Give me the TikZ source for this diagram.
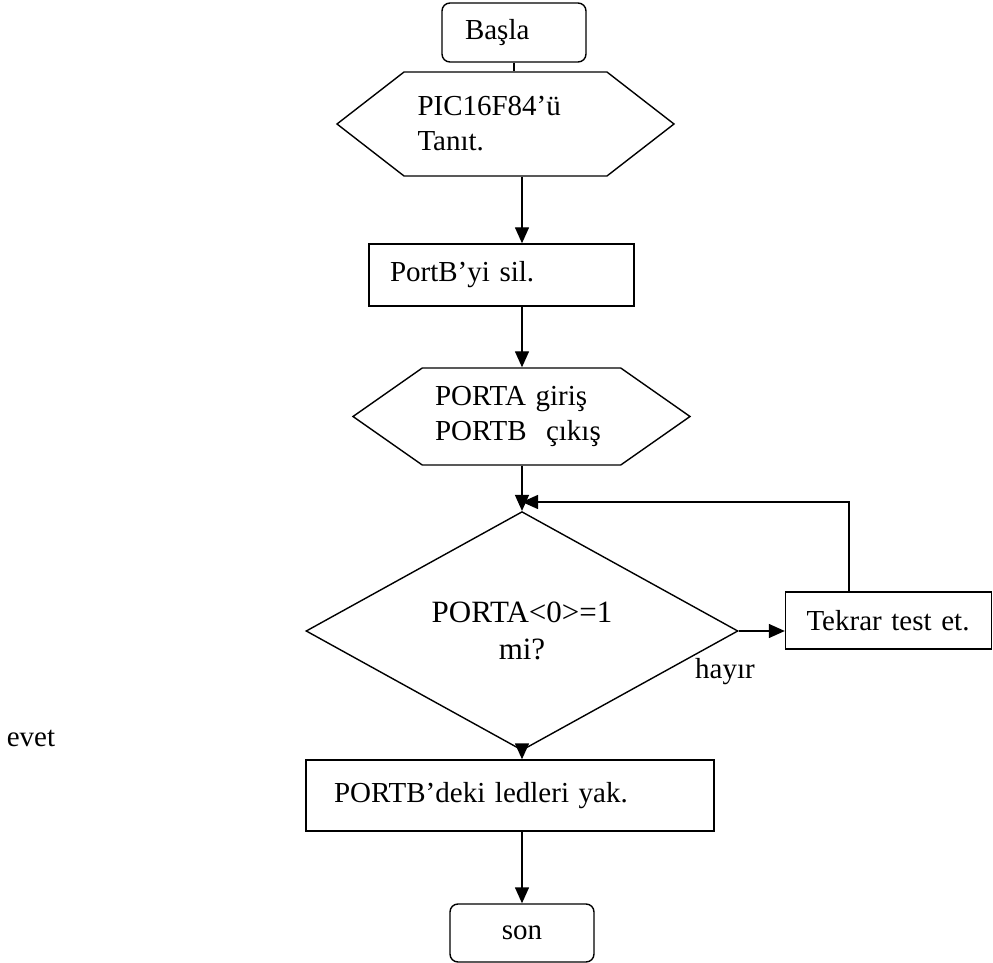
\documentclass[tikz,border=0pt]{standalone}
\usepackage{fontspec}
\setmainfont{Liberation Serif}
\usetikzlibrary{positioning,arrows.meta,shapes.geometric,shapes.symbols}
\tikzset{
  node-box/.style={draw,line width=0.7pt,inner sep=0pt,align=left,
    font=\fontsize{14.5}{17.5}\selectfont},
  node-term/.style={node-box,rounded corners=4pt},
  node-hex/.style={draw,line width=0.7pt,signal,signal to=west and east,
    inner sep=0pt,align=left,font=\fontsize{14.5}{17.5}\selectfont},
  node-karar/.style={draw,line width=0.7pt,diamond,inner sep=0pt,align=center,
    font=\fontsize{15.5}{18.5}\selectfont},
  node-label/.style={inner sep=0pt,font=\fontsize{14.5}{17.5}\selectfont},
  arrow/.style={-{Triangle[length=8pt,width=7pt]},line width=0.7pt},
}
\begin{document}
\begin{tikzpicture}[x=0.5pt,y=-0.5pt]
  \useasboundingbox (0,0) rectangle (993,963);
  \coordinate (eksen) at (522,0);
  \coordinate (donus) at (849,502);
  \node[node-term,minimum width=72pt,minimum height=29.5pt,text width=49pt] (basla) at (514,32.5) {Başla};
  \node[node-hex,signal pointer angle=75.6,minimum width=168.5pt,minimum height=52pt,text width=88pt]
    (tanit) at (505.5,124) {PIC16F84’ü\\Tanıt.};
  \node[node-box,minimum width=132.5pt,minimum height=31pt,text width=111.5pt] (portb) at (501.5,275) {PortB’yi sil.};
  \node[node-hex,signal pointer angle=70,minimum width=168.5pt,minimum height=48.5pt,text width=86.5pt]
    (giris) at (521.5,416.5) {PORTA giriş\\PORTB~ çıkış};
  \node[node-karar,minimum width=216pt,minimum height=95.5pt] (karar) at (522,631) {PORTA<0>=1\\mi?};
  \node[node-box,minimum width=103pt,minimum height=28.5pt,text width=82pt] (tekrar) at (888.5,620.5) {Tekrar test et.};
  \node[node-box,minimum width=204pt,minimum height=35.5pt,text width=176pt] (yak) at (510,795.5) {PORTB’deki ledleri yak.};
  \node[node-term,minimum width=72pt,minimum height=29pt,align=center] (son) at (522,933) {son};
  \node[node-label] (hayir) at (725,672) {hayır};
  \node[node-label] (evet) at (31,738) {evet};
  \draw[line width=0.7pt] (basla.south) -- (basla.south |- tanit.north);
  \draw[arrow] (eksen |- tanit.south) -- (eksen |- portb.north);
  \draw[arrow] (eksen |- portb.south) -- (eksen |- giris.north);
  \draw[arrow] (eksen |- giris.south) -- (eksen |- karar.north);
  \draw[arrow] (karar.east) -- (karar.east -| tekrar.west);
  \draw[arrow] (tekrar.north -| donus) -- (donus) -- (eksen |- donus);
  \draw[arrow] (eksen |- karar.south) -- (eksen |- yak.north);
  \draw[arrow] (eksen |- yak.south) -- (eksen |- son.north);
\end{tikzpicture}
\end{document}
